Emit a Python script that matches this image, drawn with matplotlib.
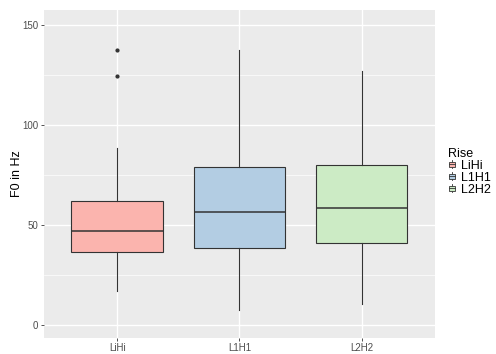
import matplotlib
matplotlib.use("Agg")
import matplotlib.pyplot as plt
from matplotlib.patches import Patch, Rectangle
from matplotlib.lines import Line2D
from matplotlib.legend_handler import HandlerBase

plt.rcParams["font.family"] = ["Liberation Sans", "DejaVu Sans"]

# F0 rise summary per category
rises = ["LiHi", "L1H1", "L2H2"]
q1 = [36.8, 38.5, 41.1]
medians = [47.2, 56.7, 58.6]
q3 = [62.0, 79.0, 80.1]
whisker_low = [17.1, 7.5, 10.9]
whisker_high = [88.5, 137.6, 126.8]
outliers = [[124.2, 137.3], [], []]
fills = ["#FBB4AE", "#B3CDE3", "#CCEBC5"]

stats = []
for i, name in enumerate(rises):
    stats.append({
        "label": name,
        "q1": q1[i], "med": medians[i], "q3": q3[i],
        "whislo": whisker_low[i], "whishi": whisker_high[i],
        "fliers": outliers[i],
    })


class BoxKeyHandler(HandlerBase):
    # tiny boxplot glyph for legend keys
    def create_artists(self, legend, orig_handle, xdescent, ydescent,
                       width, height, fontsize, trans):
        cx = width / 2 - xdescent
        bw = width * 0.8
        bh = height * 0.7
        by = -ydescent + (height - bh) / 2
        whisker = Line2D([cx, cx], [-ydescent, -ydescent + height],
                         color="#333333", linewidth=0.6, transform=trans)
        box = Rectangle((cx - bw / 2, by), bw, bh,
                        facecolor=orig_handle.get_facecolor(),
                        edgecolor="#333333", linewidth=0.6, transform=trans)
        med = Line2D([cx - bw / 2, cx + bw / 2],
                     [-ydescent + height / 2] * 2,
                     color="#333333", linewidth=0.6, transform=trans)
        return [whisker, box, med]


fig = plt.figure(figsize=(4.96, 3.54), dpi=100)
ax = fig.add_axes([0.0887, 0.045, 0.788, 0.927])
ax.set_facecolor("#EBEBEB")

positions = list(range(1, len(rises) + 1))
bp = ax.bxp(
    stats, positions=positions, widths=0.75, patch_artist=True, showcaps=False,
    boxprops=dict(edgecolor="#333333", linewidth=0.8),
    medianprops=dict(color="#333333", linewidth=1.1),
    whiskerprops=dict(color="#333333", linewidth=0.8),
    flierprops=dict(marker="o", markersize=2.0, markerfacecolor="#333333",
                    markeredgecolor="#333333"),
    zorder=3,
)
for box, c in zip(bp["boxes"], fills):
    box.set_facecolor(c)

ax.set_xlim(0.4, 3.6)
ax.set_ylim(-6.3, 157.4)
ax.set_yticks([0, 50, 100, 150])
ax.set_yticks([25, 75, 125], minor=True)
ax.set_xticks(positions)
ax.set_xticklabels(rises)
ax.grid(which="major", color="white", linewidth=1.0, zorder=0)
ax.grid(which="minor", axis="y", color="white", linewidth=0.5, zorder=0)
ax.set_axisbelow(True)
for s in ax.spines.values():
    s.set_visible(False)
ax.tick_params(which="major", length=2.5, width=0.6, color="#333333",
               labelsize=7, labelcolor="#4D4D4D", pad=1.5)
ax.tick_params(axis="x", pad=1)
ax.tick_params(which="minor", length=0)
ax.set_ylabel("F0 in Hz", fontsize=9)
ax.yaxis.set_label_coords(-0.054, 0.5)

handles = [Patch(facecolor=c, edgecolor="#333333") for c in fills]
leg = fig.legend(handles, rises, title="Rise", loc="center left",
                 bbox_to_anchor=(0.893, 0.515), frameon=False, fontsize=9,
                 title_fontsize=9, handlelength=0.6, handleheight=0.6,
                 handletextpad=0.45, labelspacing=0.0, borderaxespad=0,
                 handler_map={Patch: BoxKeyHandler()})
leg._legend_box.align = "left"

fig.savefig("out.png", dpi=100)
